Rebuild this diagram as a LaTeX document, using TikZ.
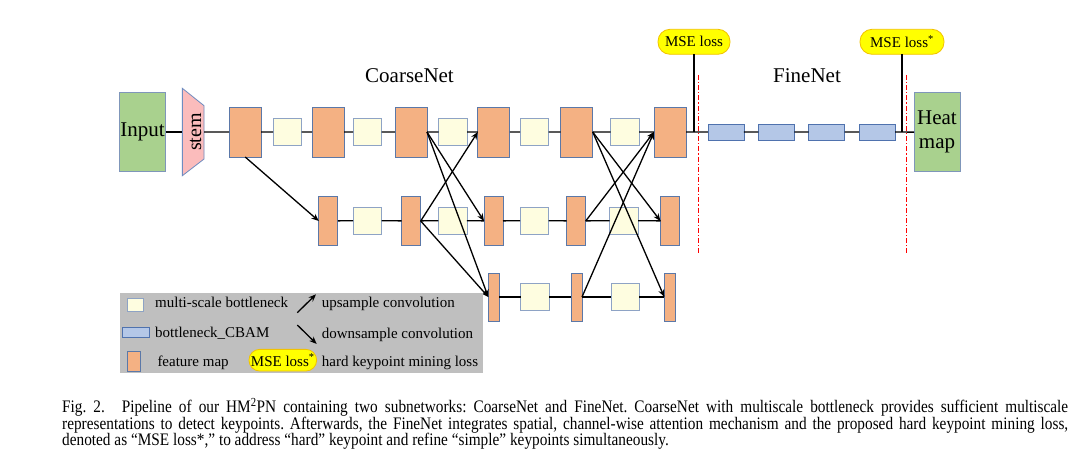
\documentclass[tikz,border=0pt]{standalone}
\usepackage{fontspec}
\usepackage{graphicx}
\setmainfont{Liberation Serif}
\usetikzlibrary{arrows.meta,calc}
\definecolor{fmfill}{HTML}{F4B183}
\definecolor{fmdraw}{HTML}{5B78A8}
\definecolor{bnfill}{HTML}{FEFDE0}
\definecolor{bndraw}{HTML}{8EA3C5}
\definecolor{cbfill}{HTML}{B4C7E7}
\definecolor{cbdraw}{HTML}{4F72AE}
\definecolor{iofill}{HTML}{A9D18E}
\definecolor{iodraw}{HTML}{7F96BA}
\definecolor{stemfill}{HTML}{FBBCBC}
\definecolor{stemdraw}{HTML}{6F8CC0}
\definecolor{lossfill}{HTML}{FFFF00}
\definecolor{lossdraw}{HTML}{F2C200}
\definecolor{leggray}{HTML}{BFBFBF}
\begin{document}
\begin{tikzpicture}[x=1pt,y=-1pt,
  box/.style={draw, line width=0.8pt, inner sep=0pt, outer sep=0pt},
  fm/.style={box, draw=fmdraw, fill=fmfill},
  fmA/.style={fm, minimum width=32pt, minimum height=50pt},
  fmB/.style={fm, minimum width=19pt, minimum height=49pt},
  fmC/.style={fm, minimum width=11pt, minimum height=48pt},
  bn/.style={box, draw=bndraw, fill=bnfill, minimum width=28.5pt, minimum height=27pt},
  cbam/.style={box, draw=cbdraw, fill=cbfill, minimum width=36pt, minimum height=16pt},
  io/.style={box, draw=iodraw, fill=iofill, minimum width=46pt, minimum height=79pt, align=center, font=\fontsize{21}{24}\selectfont},
  loss/.style={box, draw=lossdraw, fill=lossfill, rounded corners=12pt, minimum height=25pt, font=\fontsize{15}{18}\selectfont},
  title/.style={font=\fontsize{21}{24}\selectfont, anchor=base},
  legtext/.style={font=\fontsize{15}{18}\selectfont, anchor=base west, inner sep=0pt},
  conn/.style={line width=1.3pt, black},
  arr/.style={conn, -{Stealth[length=7.5pt,width=6pt]}},
  redline/.style={red, line width=1pt, dash pattern=on 5pt off 2pt on 1.2pt off 2pt}]
\useasboundingbox (0,0) rectangle (1080,460);
\fill[white] (0,0) rectangle (1080,460);

% titles
\node[title] (tcoarse) at (409.5,82.5) {CoarseNet};
\node[title] (tfine) at (807,82.5) {FineNet};

% input and stem
\node[io] (in) at (142.5,132) {Input};
\node[inner sep=0pt, outer sep=0pt, minimum width=21.7pt, minimum height=87.4pt] (stem) at (193.2,132) {};
\draw[line width=0.8pt, draw=stemdraw, fill=stemfill] (stem.north west) -- ($(stem.north east)+(0,17.4)$) -- ($(stem.south east)+(0,-16.7)$) -- (stem.south west) -- cycle;
\node[rotate=90, font=\fontsize{20}{24}\selectfont, inner sep=0pt] (stemtxt) at (195.5,132) {stem};

% row 1
\node[fmA] (a1) at (245.2,132) {};
\node[bn] (p1) at (287.3,132) {};
\node[fmA] (a2) at (328.2,132) {};
\node[bn] (p2) at (367.3,132) {};
\node[fmA] (a3) at (411,132) {};
\node[bn] (p3) at (452.8,132) {};
\node[fmA] (a4) at (493.8,132) {};
\node[bn] (p4) at (534.3,132) {};
\node[fmA] (a5) at (576.7,132) {};
\node[bn] (p5) at (624.8,132) {};
\node[fmA] (a6) at (670,132) {};

% row 2
\node[fmB] (b2) at (328.3,221) {};
\node[bn] (q2) at (367.3,220.5) {};
\node[fmB] (b3) at (411.2,221) {};
\node[bn] (q3) at (452.7,220.5) {};
\node[fmB] (b4) at (493.5,221) {};
\node[bn] (q4) at (534.3,220.5) {};
\node[fmB] (b5) at (576.2,221) {};
\node[bn] (q5) at (623.8,220.5) {};
\node[fmB] (b6) at (670,221) {};

% row 3
\node[fmC] (c4) at (493.8,297) {};
\node[bn] (s4) at (534.8,297) {};
\node[fmC] (c5) at (576.5,297) {};
\node[bn] (s5) at (625.2,297) {};
\node[fmC] (c6) at (669.8,297) {};

% FineNet
\node[cbam] (f1) at (725.9,132) {};
\node[cbam] (f2) at (776.3,132) {};
\node[cbam] (f3) at (826.7,132) {};
\node[cbam] (f4) at (877.2,132) {};
\node[io] (heat) at (937,132.2) {Heat\\map};

% losses
\node[loss, minimum width=72pt] (mse1) at (694,41.8) {MSE loss};
\node[loss, minimum width=84pt] (mse2) at (902,41.8) {MSE loss\textsuperscript{*}};
\coordinate (j1) at (694,132);
\coordinate (j2) at (902,132);

% red separators
\draw[redline] (698.5,75) -- (698.5,253);
\draw[redline] (906.7,75) -- (906.7,253);

% plain connections
\draw[conn] (in) -- (stem);
\draw[conn] (stem) -- (a1) -- (p1) -- (a2) -- (p2) -- (a3) -- (p3) -- (a4) -- (p4) -- (a5) -- (p5) -- (a6) -- (f1) -- (f2) -- (f3) -- (f4) -- (heat);
\draw[conn] (b2) -- (q2) -- (b3) -- (q3) -- (b4) -- (q4) -- (b5) -- (q5) -- (b6);
\draw[conn] (c4) -- (s4) -- (c5) -- (s5) -- (c6);
\draw[conn] (mse1) -- (j1);
\draw[conn] (mse2) -- (j2);

% sampling arrows
\draw[arr] (a1.south) -- (b2.west);
\draw[arr] (a3.east) -- (b4.west);
\draw[arr] (a3.east) -- (c4.west);
\draw[arr] (b3.east) -- (a4.west);
\draw[arr] (b3.east) -- (c4.west);
\draw[arr] (a5.east) -- (b6.west);
\draw[arr] (a5.east) -- (c6.west);
\draw[arr] (b5.east) -- (a6.west);
\draw[arr] (c5.east) -- (a6.west);

% legend
\node[fill=leggray, inner sep=0pt, minimum width=362.7pt, minimum height=80pt] (legend) at (301.35,333.3) {};
\node[bn, minimum width=15.6pt, minimum height=13.4pt] (lbn) at (135.5,305) {};
\node[legtext] (lbntxt) at (155,307.7) {multi-scale bottleneck};
\coordinate (lu1) at (297.3,312.7);
\coordinate (lu2) at (316,294.3);
\draw[arr] (lu1) -- (lu2);
\node[legtext] (lup) at (321.7,307.7) {upsample convolution};
\node[cbam, minimum width=26.7pt, minimum height=10pt] (lcb) at (135.7,332.3) {};
\node[legtext] (lcbtxt) at (155,337.7) {bottleneck\_CBAM};
\coordinate (ld1) at (297.3,325);
\coordinate (ld2) at (316.7,344);
\draw[arr] (ld1) -- (ld2);
\node[legtext] (ldown) at (321.7,338.3) {downsample convolution};
\node[fm, minimum width=13pt, minimum height=20pt] (lfm) at (134.2,361) {};
\node[legtext] (lfmtxt) at (157.3,366) {feature map};
\node[loss, minimum width=67.7pt, minimum height=21.7pt, rounded corners=10.8pt] (lloss) at (282.8,360.2) {MSE loss\textsuperscript{*}};
\node[legtext] (lhard) at (321.7,366) {hard keypoint mining loss};

% caption
\node[anchor=north west, inner sep=0pt] (caption) at (62,398) {\scalebox{1}[1.15]{\parbox[t]{1006pt}{\fontsize{15.3}{14.5}\selectfont\frenchspacing
Fig.~2.\hspace{1.1em}Pipeline of our HM\textsuperscript{2}PN containing two subnetworks: CoarseNet and FineNet. CoarseNet with multiscale bottleneck provides sufficient multiscale\linebreak representations to detect keypoints. Afterwards, the FineNet integrates spatial, channel-wise attention mechanism and the proposed hard keypoint mining loss,\linebreak denoted as ``MSE loss*,'' to address ``hard'' keypoint and refine ``simple'' keypoints simultaneously.}}};
\end{tikzpicture}
\end{document}
